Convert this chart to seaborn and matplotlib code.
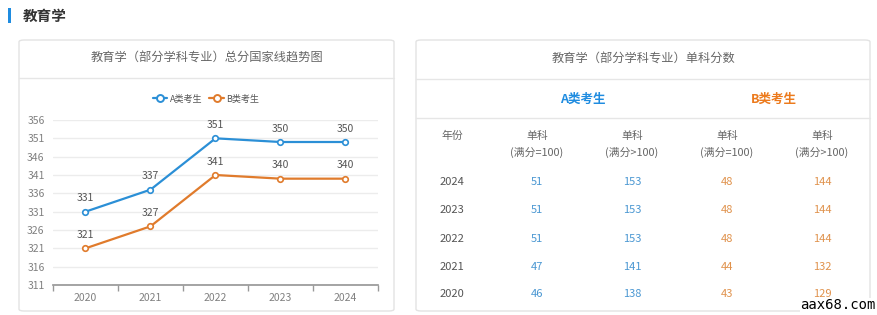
import numpy as np
import pandas as pd
import matplotlib
matplotlib.use("Agg")
import matplotlib.pyplot as plt
from matplotlib.patches import FancyBboxPatch, Rectangle
from matplotlib.lines import Line2D
import seaborn as sns

# 数据
years = ["2020", "2021", "2022", "2023", "2024"]
a_total = [331, 337, 351, 350, 350]
b_total = [321, 327, 341, 340, 340]
y_ticks = [311, 316, 321, 326, 331, 336, 341, 346, 351, 356]

table_years = ["2024", "2023", "2022", "2021", "2020"]
a_eq100 = [51, 51, 51, 47, 46]
a_gt100 = [153, 153, 153, 141, 138]
b_eq100 = [48, 48, 48, 44, 43]
b_gt100 = [144, 144, 144, 132, 129]

BLUE = "#2b8fd6"
ORANGE = "#e07b2c"
GREY = "#666666"

sns.set_theme(style="white")
plt.rcParams["font.family"] = ["Noto Sans CJK SC", "DejaVu Sans"]

W, H = 878, 315
fig = plt.figure(figsize=(W / 100, H / 100), dpi=100)
fig.patch.set_facecolor("white")


def fx(x):
    return x / W


def fy(y):
    return 1 - y / H


def card(x0, y0, x1, y1):
    fig.patches.append(FancyBboxPatch((fx(x0), fy(y1)), fx(x1 - x0), (y1 - y0) / H,
                                      boxstyle="round,pad=0,rounding_size=0.006",
                                      transform=fig.transFigure, facecolor="white",
                                      edgecolor="#e3e3e3", linewidth=1, zorder=-5))


def hline(x0, x1, y, color="#e6e6e6"):
    fig.add_artist(Line2D([fx(x0), fx(x1)], [fy(y), fy(y)], transform=fig.transFigure,
                          color=color, linewidth=1, zorder=-4))


# 顶部标题
fig.patches.append(Rectangle((fx(8), fy(23)), fx(3), 15 / H, transform=fig.transFigure,
                             facecolor="#1f8ce0", edgecolor="none"))
fig.text(fx(23), fy(16), "教育学", fontsize=10.5, fontweight="bold", color="#333333",
         va="center", ha="left")

# 左侧卡片：折线图
card(19, 40, 394, 311)
fig.text(fx(207), fy(58), "教育学（部分学科专业）总分国家线趋势图", fontsize=8.8,
         color=GREY, ha="center", va="center")
hline(19, 394, 78)

ax = fig.add_axes([fx(53), fy(285), fx(378 - 53), (285 - 120) / H])
df = pd.DataFrame({
    "年份": years * 2,
    "分数": a_total + b_total,
    "类别": ["A类考生"] * len(years) + ["B类考生"] * len(years),
})
sns.lineplot(data=df, x="年份", y="分数", hue="类别", palette=[BLUE, ORANGE],
             marker="o", markersize=4, markerfacecolor="white", markeredgewidth=1.2,
             linewidth=1.6, ax=ax, legend=False)
for line, col in zip(ax.lines, [BLUE, ORANGE]):
    line.set_markeredgecolor(col)

for vals in (a_total, b_total):
    for i, v in enumerate(vals):
        ax.annotate(str(v), (i, v), xytext=(0, 6), textcoords="offset points",
                    ha="center", va="bottom", fontsize=7.5, color="#555555")

ax.set_xlim(-0.5, len(years) - 0.5)
ax.set_ylim(y_ticks[0], y_ticks[-1])
ax.set_yticks(y_ticks)
ax.set_xticks(range(len(years)))
ax.set_xticklabels(years)
ax.set_xticks(np.arange(-0.5, len(years)), minor=True)
ax.tick_params(axis="x", which="major", length=0, labelsize=7.5, labelcolor="#808080", pad=6)
ax.tick_params(axis="x", which="minor", length=4, color="#999999", direction="out", bottom=True)
ax.tick_params(axis="y", length=0, labelsize=7.5, labelcolor="#808080", pad=6)
ax.set_xlabel("")
ax.set_ylabel("")
ax.yaxis.grid(True, color="#ececec", linewidth=1)
ax.set_axisbelow(True)
for s in ["left", "right", "top"]:
    ax.spines[s].set_visible(False)
ax.spines["bottom"].set_color("#999999")
ax.set_facecolor("none")

handles = [Line2D([], [], color=c, marker="o", markersize=5, markerfacecolor="white",
                  markeredgewidth=1.4, linewidth=1.6) for c in (BLUE, ORANGE)]
fig.legend(handles, ["A类考生", "B类考生"], loc="center", bbox_to_anchor=(fx(206), fy(99)),
           ncol=2, frameon=False, fontsize=6.5, handlelength=1.6, handletextpad=0.3,
           columnspacing=0.8, labelcolor="#555555")

# 右侧卡片：单科分数表
card(416, 40, 870, 311)
fig.text(fx(643), fy(59), "教育学（部分学科专业）单科分数", fontsize=8.8,
         color=GREY, ha="center", va="center")
hline(416, 870, 79)
fig.text(fx(583), fy(99), "A类考生", fontsize=9, fontweight="bold", color="#1f8ce0",
         ha="center", va="center")
fig.text(fx(774), fy(99), "B类考生", fontsize=9, fontweight="bold", color="#ec7a1c",
         ha="center", va="center")
hline(416, 870, 118)

col_x = [452, 537, 632, 727, 822]
fig.text(fx(col_x[0]), fy(136), "年份", fontsize=7.8, color=GREY, ha="center", va="center")
for x, sub in zip(col_x[1:], ["(满分=100)", "(满分>100)", "(满分=100)", "(满分>100)"]):
    fig.text(fx(x), fy(136), "单科", fontsize=7.8, color=GREY, ha="center", va="center")
    fig.text(fx(x), fy(152), sub, fontsize=7.8, color=GREY, ha="center", va="center")

row_y = [182, 210, 239, 267, 294]
cols = [(table_years, "#555555"), (a_eq100, "#4a97d2"), (a_gt100, "#4a97d2"),
        (b_eq100, "#e0924c"), (b_gt100, "#e0924c")]
for x, (vals, col) in zip(col_x, cols):
    for y, v in zip(row_y, vals):
        fig.text(fx(x), fy(y), str(v), fontsize=8, color=col, ha="center", va="center")

# 水印
fig.text(fx(876), fy(305), "aax68.com", fontsize=10, color="black", ha="right", va="center",
         family="DejaVu Sans Mono",
         bbox=dict(facecolor="white", edgecolor="none", pad=0.3))

fig.savefig("out.png", dpi=100, facecolor="white")
